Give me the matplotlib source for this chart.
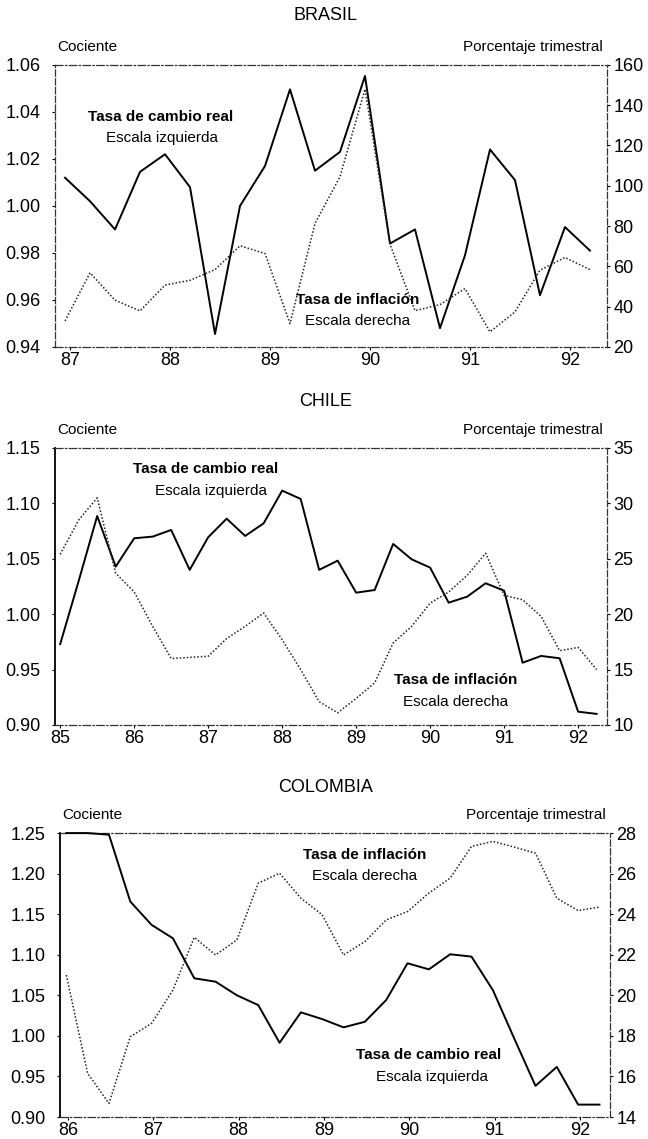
import numpy as np
import matplotlib
matplotlib.use("Agg")
import matplotlib.pyplot as plt

plt.rcParams['font.family'] = ['Liberation Sans', 'DejaVu Sans']

# Brasil: trimestral, 1987-I a 1992-II
brasil_start = 86.95
brasil_tcr = [1.012, 1.002, 0.990, 1.0145, 1.022, 1.008, 0.9455, 1.000, 1.017, 1.0496, 1.015,
              1.023, 1.0553, 0.984, 0.990, 0.948, 0.979, 1.024, 1.011, 0.962, 0.991, 0.981]
brasil_inf = [32.9, 56.8, 43.2, 37.9, 50.7, 53.1, 58.4, 70.2, 66.4, 31.6, 81.3,
              104.5, 148.0, 71.0, 38.0, 41.0, 49.0, 27.5, 37.4, 58.1, 64.4, 58.4]

# Chile: trimestral, 1985-I a 1992-II
chile_start = 85.0
chile_tcr = [0.973, 1.030, 1.0886, 1.0429, 1.0685, 1.070, 1.076, 1.040, 1.0694, 1.0862,
             1.0706, 1.082, 1.1115, 1.104, 1.040, 1.0483, 1.0194, 1.0218, 1.0634, 1.0495,
             1.042, 1.0104, 1.0158, 1.0279, 1.0212, 0.9562, 0.9623, 0.9602, 0.912, 0.910]
chile_inf = [25.4, 28.5, 30.5, 23.7, 22.0, 18.9, 16.0, 16.1, 16.2, 17.8,
             18.9, 20.1, 17.7, 15.0, 12.1, 11.1, 12.4, 13.8, 17.4, 18.9,
             21.0, 22.0, 23.5, 25.5, 21.7, 21.3, 19.8, 16.7, 17.0, 15.0]

# Colombia: trimestral, 1986-I a 1992-II
colombia_start = 85.98
colombia_tcr = [1.25, 1.25, 1.248, 1.1656, 1.1368, 1.1203, 1.071, 1.0668, 1.050, 1.038,
                0.9915, 1.029, 1.0207, 1.0105, 1.0174, 1.0442, 1.0895, 1.082, 1.1006, 1.0977,
                1.0566, 0.997, 0.9384, 0.9618, 0.9153, 0.9153]
colombia_inf = [21.0, 16.15, 14.67, 17.96, 18.62, 20.26, 22.86, 21.99, 22.73, 25.53,
                26.02, 24.79, 23.97, 21.99, 22.65, 23.72, 24.13, 25.04, 25.78, 27.34,
                27.59, 27.31, 27.01, 24.79, 24.18, 24.35]

FS_TICK = 13
FS_TXT = 11


def panel(rect, title, title_y, x_start, tcr, inf, xlim, years, ylim_l, yticks_l,
          ylim_r, yticks_r, lbl_tcr, lbl_inf, left_solid):
    ax = fig.add_axes(rect)
    ax2 = ax.twinx()
    x = x_start + 0.25 * np.arange(len(tcr))

    ax.plot(x, tcr, color='black', lw=1.4, clip_on=False, zorder=3)
    ax2.plot(x, inf, color='#222222', lw=1.1, ls=(0, (1, 1.3)), clip_on=False, zorder=3)

    ax.set_xlim(*xlim)
    ax.set_ylim(*ylim_l)
    ax2.set_ylim(*ylim_r)
    ax.set_xticks(years)
    ax.set_xticklabels([str(y) for y in years], fontsize=FS_TICK)
    ax.set_yticks(yticks_l)
    ax.set_yticklabels(['%.2f' % v for v in yticks_l], fontsize=FS_TICK)
    ax2.set_yticks(yticks_r)
    ax2.set_yticklabels([str(v) for v in yticks_r], fontsize=FS_TICK)

    ax.tick_params(axis='y', direction='out', length=2.5, width=0.8, pad=8)
    ax.tick_params(axis='x', direction='out', length=2.5, width=0.8, pad=1)
    ax2.tick_params(axis='y', direction='out', length=2.5, width=0.8, pad=2)

    for a in (ax, ax2):
        for s in a.spines.values():
            s.set_visible(False)
    for name in ('top', 'bottom'):
        sp = ax.spines[name]
        sp.set_visible(True)
        sp.set_linestyle((0, (6, 2, 1, 2)))
        sp.set_linewidth(0.9)
        sp.set_color('#333333')
    sp = ax2.spines['right']
    sp.set_visible(True)
    sp.set_linestyle((0, (5, 2)))
    sp.set_linewidth(0.9)
    sp.set_color('#333333')
    sp = ax.spines['left']
    sp.set_visible(True)
    if left_solid:
        sp.set_linewidth(1.3)
        sp.set_color('black')
    else:
        sp.set_linestyle((0, (5, 2)))
        sp.set_linewidth(0.9)
        sp.set_color('#333333')

    (tx, ty), (ex, ey) = lbl_tcr[0], lbl_tcr[1]
    ax.text(tx, ty, 'Tasa de cambio real', ha='center', va='center',
            fontsize=FS_TXT, fontweight='bold')
    ax.text(ex, ey, 'Escala izquierda', ha='center', va='center', fontsize=FS_TXT)
    (tx, ty), (ex, ey) = lbl_inf[0], lbl_inf[1]
    ax.text(tx, ty, 'Tasa de inflación', ha='center', va='center',
            fontsize=FS_TXT, fontweight='bold')
    ax.text(ex, ey, 'Escala derecha', ha='center', va='center', fontsize=FS_TXT)

    l, b, w, h = rect
    fig.text(0.502, title_y, title, ha='center', va='center', fontsize=13)
    fig.text(l + 0.003, b + h + 0.016, 'Cociente', ha='left', va='center', fontsize=FS_TXT)
    fig.text(l + w - 0.006, b + h + 0.016, 'Porcentaje trimestral', ha='right',
             va='center', fontsize=FS_TXT)
    return ax


fig = plt.figure(figsize=(6.48, 11.39), dpi=100)

panel([0.0849, 0.6954, 0.8518, 0.2476], 'BRASIL', 0.9868, brasil_start,
      brasil_tcr, brasil_inf, (86.85, 92.37), list(range(87, 93)),
      (0.94, 1.06), [0.94, 0.96, 0.98, 1.00, 1.02, 1.04, 1.06],
      (20, 160), list(range(20, 161, 20)),
      [(87.91, 1.038), (87.92, 1.029)], [(89.88, 0.960), (89.88, 0.951)], False)

panel([0.0849, 0.3635, 0.8518, 0.2432], 'CHILE', 0.6471, chile_start,
      chile_tcr, chile_inf, (84.93, 92.39), list(range(85, 93)),
      (0.90, 1.15), [0.90, 0.95, 1.00, 1.05, 1.10, 1.15],
      (10, 35), list(range(10, 36, 5)),
      [(86.97, 1.131), (87.04, 1.111)], [(90.34, 0.941), (90.35, 0.921)], True)

panel([0.0926, 0.0193, 0.8488, 0.2493], 'COLOMBIA', 0.3090, colombia_start,
      colombia_tcr, colombia_inf, (85.906, 92.354), list(range(86, 93)),
      (0.90, 1.25), [0.90, 0.95, 1.00, 1.05, 1.10, 1.15, 1.20, 1.25],
      (14, 28), list(range(14, 29, 2)),
      [(90.23, 0.976), (90.27, 0.949)], [(89.48, 1.223), (89.48, 1.197)], True)

fig.savefig('out.png', dpi=100)
